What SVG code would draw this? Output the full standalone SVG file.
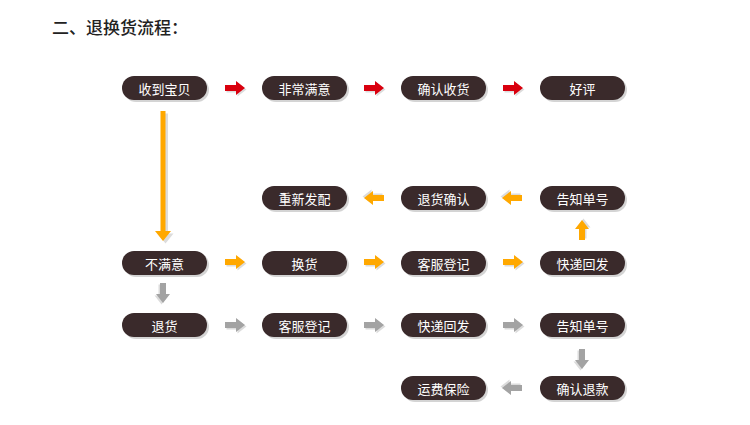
<svg xmlns="http://www.w3.org/2000/svg" xmlns:xlink="http://www.w3.org/1999/xlink" width="750" height="425" viewBox="0 0 750 425">
<style>
.nd text{fill:#ffffff;font-family:"Noto Sans CJK SC","Noto Sans",sans-serif;font-size:13px;text-anchor:middle;dominant-baseline:central}
.red{fill:#d9000e}
.org{fill:#ffa800}
.gry{fill:#a3a3a3}
.title{fill:#222;font-family:"Noto Sans CJK SC",sans-serif;font-size:17px;font-weight:500}
</style>
<defs>
<g id="ar">
<path d="M-10,-3 H1 V-7 L10,0 L1,7 V3 H-10 Z" fill="#dcdcdc" transform="translate(1.5,1.5)"/>
<path d="M-10,-3 H1 V-7 L10,0 L1,7 V3 H-10 Z"/>
</g>
<g id="nb">
<rect x="2" y="2" width="85" height="24" rx="12" fill="#d4d4d4"/>
<rect x="0" y="0" width="85" height="24" rx="12" fill="#3a2a2b"/>
</g>
</defs>
<rect width="750" height="425" fill="#ffffff"/>
<text class="title" x="52" y="34">二、退换货流程：</text>

<g id="connectors">
<use xlink:href="#ar" class="red" transform="translate(235,88)"/>
<use xlink:href="#ar" class="red" transform="translate(374,88)"/>
<use xlink:href="#ar" class="red" transform="translate(513,88)"/>
<g id="long-down">
<path d="M161.5,112 H166.5 V232 H172 L164,242 L156,232 H161.5 Z" fill="#dcdcdc" transform="translate(1.5,1.5)"/>
<path d="M160.5,111 H165.5 V231 H171 L163,241 L155,231 H160.5 Z" class="org"/>
</g>
<use xlink:href="#ar" class="org" transform="translate(374,198) rotate(180)"/>
<use xlink:href="#ar" class="org" transform="translate(512,198) rotate(180)"/>
<use xlink:href="#ar" class="org" transform="translate(582,230) rotate(-90)"/>
<use xlink:href="#ar" class="org" transform="translate(235,262)"/>
<use xlink:href="#ar" class="org" transform="translate(374,262)"/>
<use xlink:href="#ar" class="org" transform="translate(513,262)"/>
<use xlink:href="#ar" class="gry" transform="translate(163,293) rotate(90)"/>
<use xlink:href="#ar" class="gry" transform="translate(235,325)"/>
<use xlink:href="#ar" class="gry" transform="translate(374,325)"/>
<use xlink:href="#ar" class="gry" transform="translate(513,325)"/>
<use xlink:href="#ar" class="gry" transform="translate(582,359) rotate(90)"/>
<use xlink:href="#ar" class="gry" transform="translate(512,388) rotate(180)"/>
</g>

<g id="n1" class="nd" transform="translate(122,76)"><use xlink:href="#nb"/><text x="42.5" y="12">收到宝贝</text></g>
<g id="n2" class="nd" transform="translate(262,76)"><use xlink:href="#nb"/><text x="42.5" y="12">非常满意</text></g>
<g id="n3" class="nd" transform="translate(401,76)"><use xlink:href="#nb"/><text x="42.5" y="12">确认收货</text></g>
<g id="n4" class="nd" transform="translate(540,76)"><use xlink:href="#nb"/><text x="42.5" y="12">好评</text></g>

<g id="n5" class="nd" transform="translate(262,186)"><use xlink:href="#nb"/><text x="42.5" y="12">重新发配</text></g>
<g id="n6" class="nd" transform="translate(401,186)"><use xlink:href="#nb"/><text x="42.5" y="12">退货确认</text></g>
<g id="n7" class="nd" transform="translate(540,186)"><use xlink:href="#nb"/><text x="42.5" y="12">告知单号</text></g>

<g id="n8" class="nd" transform="translate(122,251)"><use xlink:href="#nb"/><text x="42.5" y="12">不满意</text></g>
<g id="n9" class="nd" transform="translate(262,251)"><use xlink:href="#nb"/><text x="42.5" y="12">换货</text></g>
<g id="n10" class="nd" transform="translate(401,251)"><use xlink:href="#nb"/><text x="42.5" y="12">客服登记</text></g>
<g id="n11" class="nd" transform="translate(540,251)"><use xlink:href="#nb"/><text x="42.5" y="12">快递回发</text></g>

<g id="n12" class="nd" transform="translate(122,313)"><use xlink:href="#nb"/><text x="42.5" y="12">退货</text></g>
<g id="n13" class="nd" transform="translate(262,313)"><use xlink:href="#nb"/><text x="42.5" y="12">客服登记</text></g>
<g id="n14" class="nd" transform="translate(401,313)"><use xlink:href="#nb"/><text x="42.5" y="12">快递回发</text></g>
<g id="n15" class="nd" transform="translate(540,313)"><use xlink:href="#nb"/><text x="42.5" y="12">告知单号</text></g>

<g id="n16" class="nd" transform="translate(401,376)"><use xlink:href="#nb"/><text x="42.5" y="12">运费保险</text></g>
<g id="n17" class="nd" transform="translate(540,376)"><use xlink:href="#nb"/><text x="42.5" y="12">确认退款</text></g>
</svg>
